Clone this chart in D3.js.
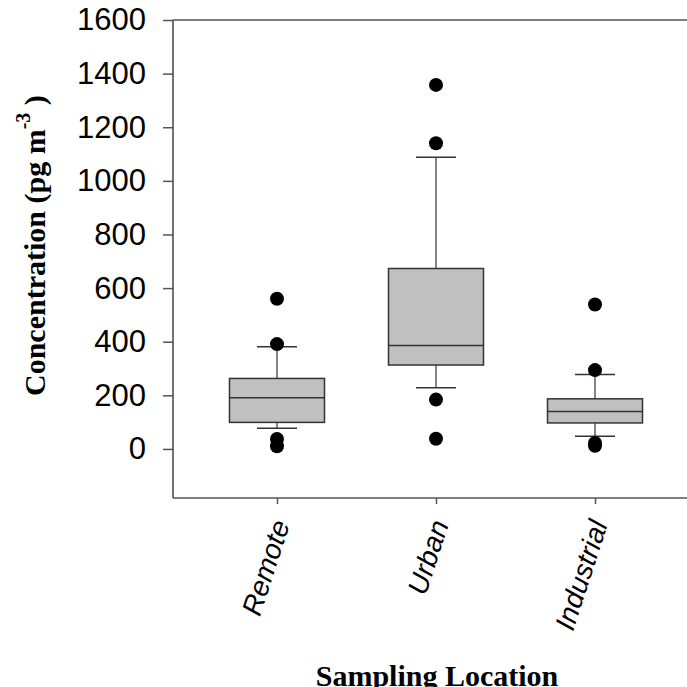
<!DOCTYPE html>
<html>
<head>
<meta charset="utf-8">
<script src="https://d3js.org/d3.v7.min.js"></script>
<style>
body { margin: 0; background: #fff; }
.tickText { font-family: "Liberation Sans", Arial, sans-serif; font-size: 31px; fill: #000; }
.catText { font-family: "Liberation Sans", Arial, sans-serif; font-size: 28px; font-style: italic; fill: #000; }
.aTitle { font-family: "Liberation Serif", "Times New Roman", serif; font-weight: bold; fill: #000; }
</style>
</head>
<body>
<div id="chart"></div>
<script>
// categories and box stats
var locations = ["Remote", "Urban", "Industrial"];
var whiskerLow = [77, 228, 47];
var q1 = [99, 313, 97];
var medians = [191, 386, 140];
var q3 = [263, 673, 187];
var whiskerHigh = [381, 1088, 278];
var outliers = [
  [560, 391, 37, 10],
  [1358, 1140, 184, 38],
  [539, 294, 22, 12]
];
var yTicks = [0, 200, 400, 600, 800, 1000, 1200, 1400, 1600];

var width = 687;
var height = 687;
var plotLeft = 173;
var plotTop = 20;
var plotBottom = 498;
var boxW = 95;
var capW = 40;

var svg = d3
  .select("#chart")
  .append("svg")
  .attr("width", width)
  .attr("height", height);

var Xscale = d3
  .scalePoint()
  .domain(locations)
  .range([plotLeft, 699])
  .padding(0.654);

var Yscale = d3
  .scaleLinear()
  .domain([-183, 1600])
  .range([plotBottom, plotTop]);

var boxes = locations.map(function(name, i) {
  return {
    name: name,
    lo: whiskerLow[i],
    q1: q1[i],
    med: medians[i],
    q3: q3[i],
    hi: whiskerHigh[i],
    out: outliers[i]
  };
});

// frame: top line
svg
  .append("line")
  .attr("x1", plotLeft)
  .attr("x2", width)
  .attr("y1", Yscale(1600))
  .attr("y2", Yscale(1600))
  .attr("stroke", "#555")
  .attr("stroke-width", 1.5);

// y axis
var Yaxis = d3
  .axisLeft(Yscale)
  .tickValues(yTicks)
  .tickFormat(d3.format("d"))
  .tickSize(10)
  .tickPadding(17);
var gy = svg
  .append("g")
  .attr("transform", "translate(" + plotLeft + ",0)")
  .call(Yaxis);
gy.select(".domain").remove();
gy.append("line")
  .attr("x1", 0).attr("x2", 0)
  .attr("y1", plotTop).attr("y2", plotBottom)
  .attr("stroke", "#444")
  .attr("stroke-width", 1.5);
gy.selectAll(".tick line").attr("stroke", "#555").attr("stroke-width", 1.5);
gy.attr("font-family", null).attr("font-size", null);
gy.selectAll(".tick text").attr("class", "tickText");

// x axis
var Xaxis = d3.axisBottom(Xscale).tickSize(6).tickFormat("");
var gx = svg
  .append("g")
  .attr("transform", "translate(0," + plotBottom + ")")
  .call(Xaxis);
gx.select(".domain").remove();
gx.append("line")
  .attr("x1", plotLeft).attr("x2", width)
  .attr("y1", 0).attr("y2", 0)
  .attr("stroke", "#555")
  .attr("stroke-width", 1.5);
gx.selectAll(".tick line").attr("stroke", "#555").attr("stroke-width", 1.5);

svg
  .selectAll(".catText")
  .data(locations)
  .enter()
  .append("text")
  .attr("class", "catText")
  .attr("text-anchor", "end")
  .attr("transform", function(d) {
    return "translate(" + (Xscale(d) + 13) + "," + 524 + ")rotate(-72)";
  })
  .text(function(d) { return d; });

// boxes
var g = svg
  .selectAll("g.box")
  .data(boxes)
  .enter()
  .append("g")
  .attr("class", "box");

g.append("line")
  .attr("x1", function(d) { return Xscale(d.name); })
  .attr("x2", function(d) { return Xscale(d.name); })
  .attr("y1", function(d) { return Yscale(d.hi); })
  .attr("y2", function(d) { return Yscale(d.lo); })
  .attr("stroke", "#333")
  .attr("stroke-width", 1.2);

g.selectAll("line.cap")
  .data(function(d) {
    return [{ x: Xscale(d.name), v: d.hi }, { x: Xscale(d.name), v: d.lo }];
  })
  .enter()
  .append("line")
  .attr("class", "cap")
  .attr("x1", function(c) { return c.x - capW / 2; })
  .attr("x2", function(c) { return c.x + capW / 2; })
  .attr("y1", function(c) { return Yscale(c.v); })
  .attr("y2", function(c) { return Yscale(c.v); })
  .attr("stroke", "#333")
  .attr("stroke-width", 1.5);

g.append("rect")
  .attr("x", function(d) { return Xscale(d.name) - boxW / 2; })
  .attr("width", boxW)
  .attr("y", function(d) { return Yscale(d.q3); })
  .attr("height", function(d) { return Yscale(d.q1) - Yscale(d.q3); })
  .attr("fill", "#c0c0c0")
  .attr("stroke", "#333")
  .attr("stroke-width", 1.5);

g.append("line")
  .attr("x1", function(d) { return Xscale(d.name) - boxW / 2; })
  .attr("x2", function(d) { return Xscale(d.name) + boxW / 2; })
  .attr("y1", function(d) { return Yscale(d.med); })
  .attr("y2", function(d) { return Yscale(d.med); })
  .attr("stroke", "#333")
  .attr("stroke-width", 1.5);

g.selectAll("circle")
  .data(function(d) {
    return d.out.map(function(v) { return { x: Xscale(d.name), v: v }; });
  })
  .enter()
  .append("circle")
  .attr("cx", function(c) { return c.x; })
  .attr("cy", function(c) { return Yscale(c.v); })
  .attr("r", 7)
  .attr("fill", "#000");

// axis titles
var yTitle = svg
  .append("text")
  .attr("class", "aTitle")
  .attr("font-size", 30)
  .attr("transform", "translate(45,396)rotate(-90)");
yTitle.append("tspan").text("Concentration (pg m");
yTitle.append("tspan").attr("font-size", 20).attr("dy", -15).text("-3");
yTitle.append("tspan").attr("dy", 15).text(" )");

svg
  .append("text")
  .attr("class", "aTitle")
  .attr("font-size", 30)
  .attr("text-anchor", "middle")
  .attr("x", 437)
  .attr("y", 686)
  .text("Sampling Location");
</script>
</body>
</html>
